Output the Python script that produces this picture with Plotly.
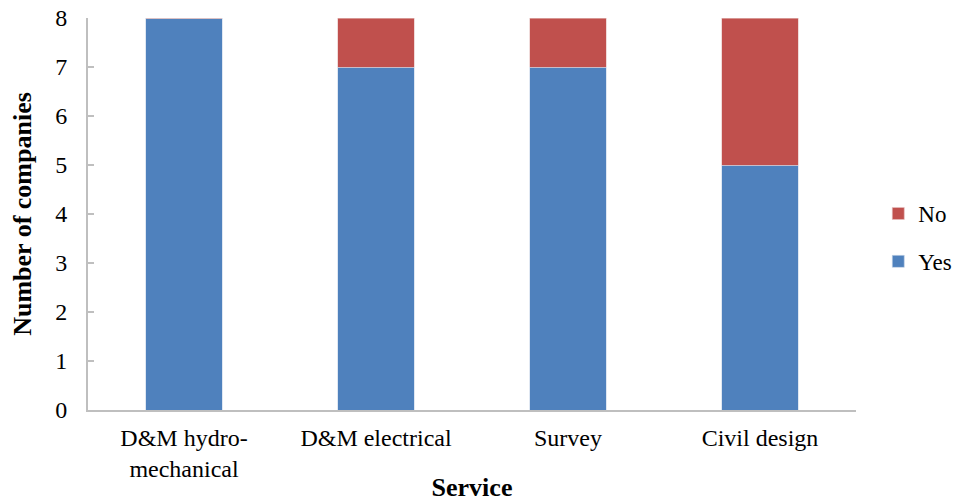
import plotly.graph_objects as go

services = ["D&M hydro-<br>mechanical", "D&M electrical", "Survey", "Civil design"]
yes_counts = [8, 7, 7, 5]
no_counts = [0, 1, 1, 3]
y_ticks = [0, 1, 2, 3, 4, 5, 6, 7, 8]

FONT = "Liberation Serif"
AXIS_GREY = "#BFBFBF"

fig = go.Figure()
fig.add_trace(go.Bar(
    x=services, y=yes_counts, name="Yes", legendgroup="yes", legendrank=2,
    marker=dict(color="#4F81BD", line=dict(color="#C9D7EA", width=0.6)),
))
fig.add_trace(go.Bar(
    x=services, y=no_counts, name="No", legendgroup="no", legendrank=1,
    marker=dict(color="#C0504D", line=dict(color="#E6C3C2", width=0.6)),
))

fig.update_layout(
    barmode="stack",
    bargap=0.6,
    width=957, height=502,
    margin=dict(l=88, r=101, t=18, b=92, autoexpand=False),
    paper_bgcolor="white", plot_bgcolor="white",
    font=dict(family=FONT, size=24, color="black"),
    legend=dict(
        x=1.029, y=0.44, xanchor="left", yanchor="middle",
        traceorder="grouped", tracegroupgap=15,
        font=dict(family=FONT, size=23, color="black"),
    ),
    xaxis=dict(
        showline=True, linecolor=AXIS_GREY, linewidth=2,
        ticks="", showgrid=False,
        ticklabelstandoff=5,
        tickfont=dict(family=FONT, size=24),
        title=dict(text="<b>Service</b>", font=dict(family=FONT, size=26), standoff=2),
    ),
    yaxis=dict(
        range=[0, 8], tickvals=y_ticks,
        showline=True, linecolor=AXIS_GREY, linewidth=2,
        ticks="inside", ticklen=6, tickcolor=AXIS_GREY, tickwidth=2,
        showgrid=False, zeroline=False,
        ticklabelstandoff=14,
        tickfont=dict(family=FONT, size=24),
        title=dict(text="<b>Number of companies</b>", font=dict(family=FONT, size=26), standoff=16),
    ),
)

fig.write_html("out.html")
